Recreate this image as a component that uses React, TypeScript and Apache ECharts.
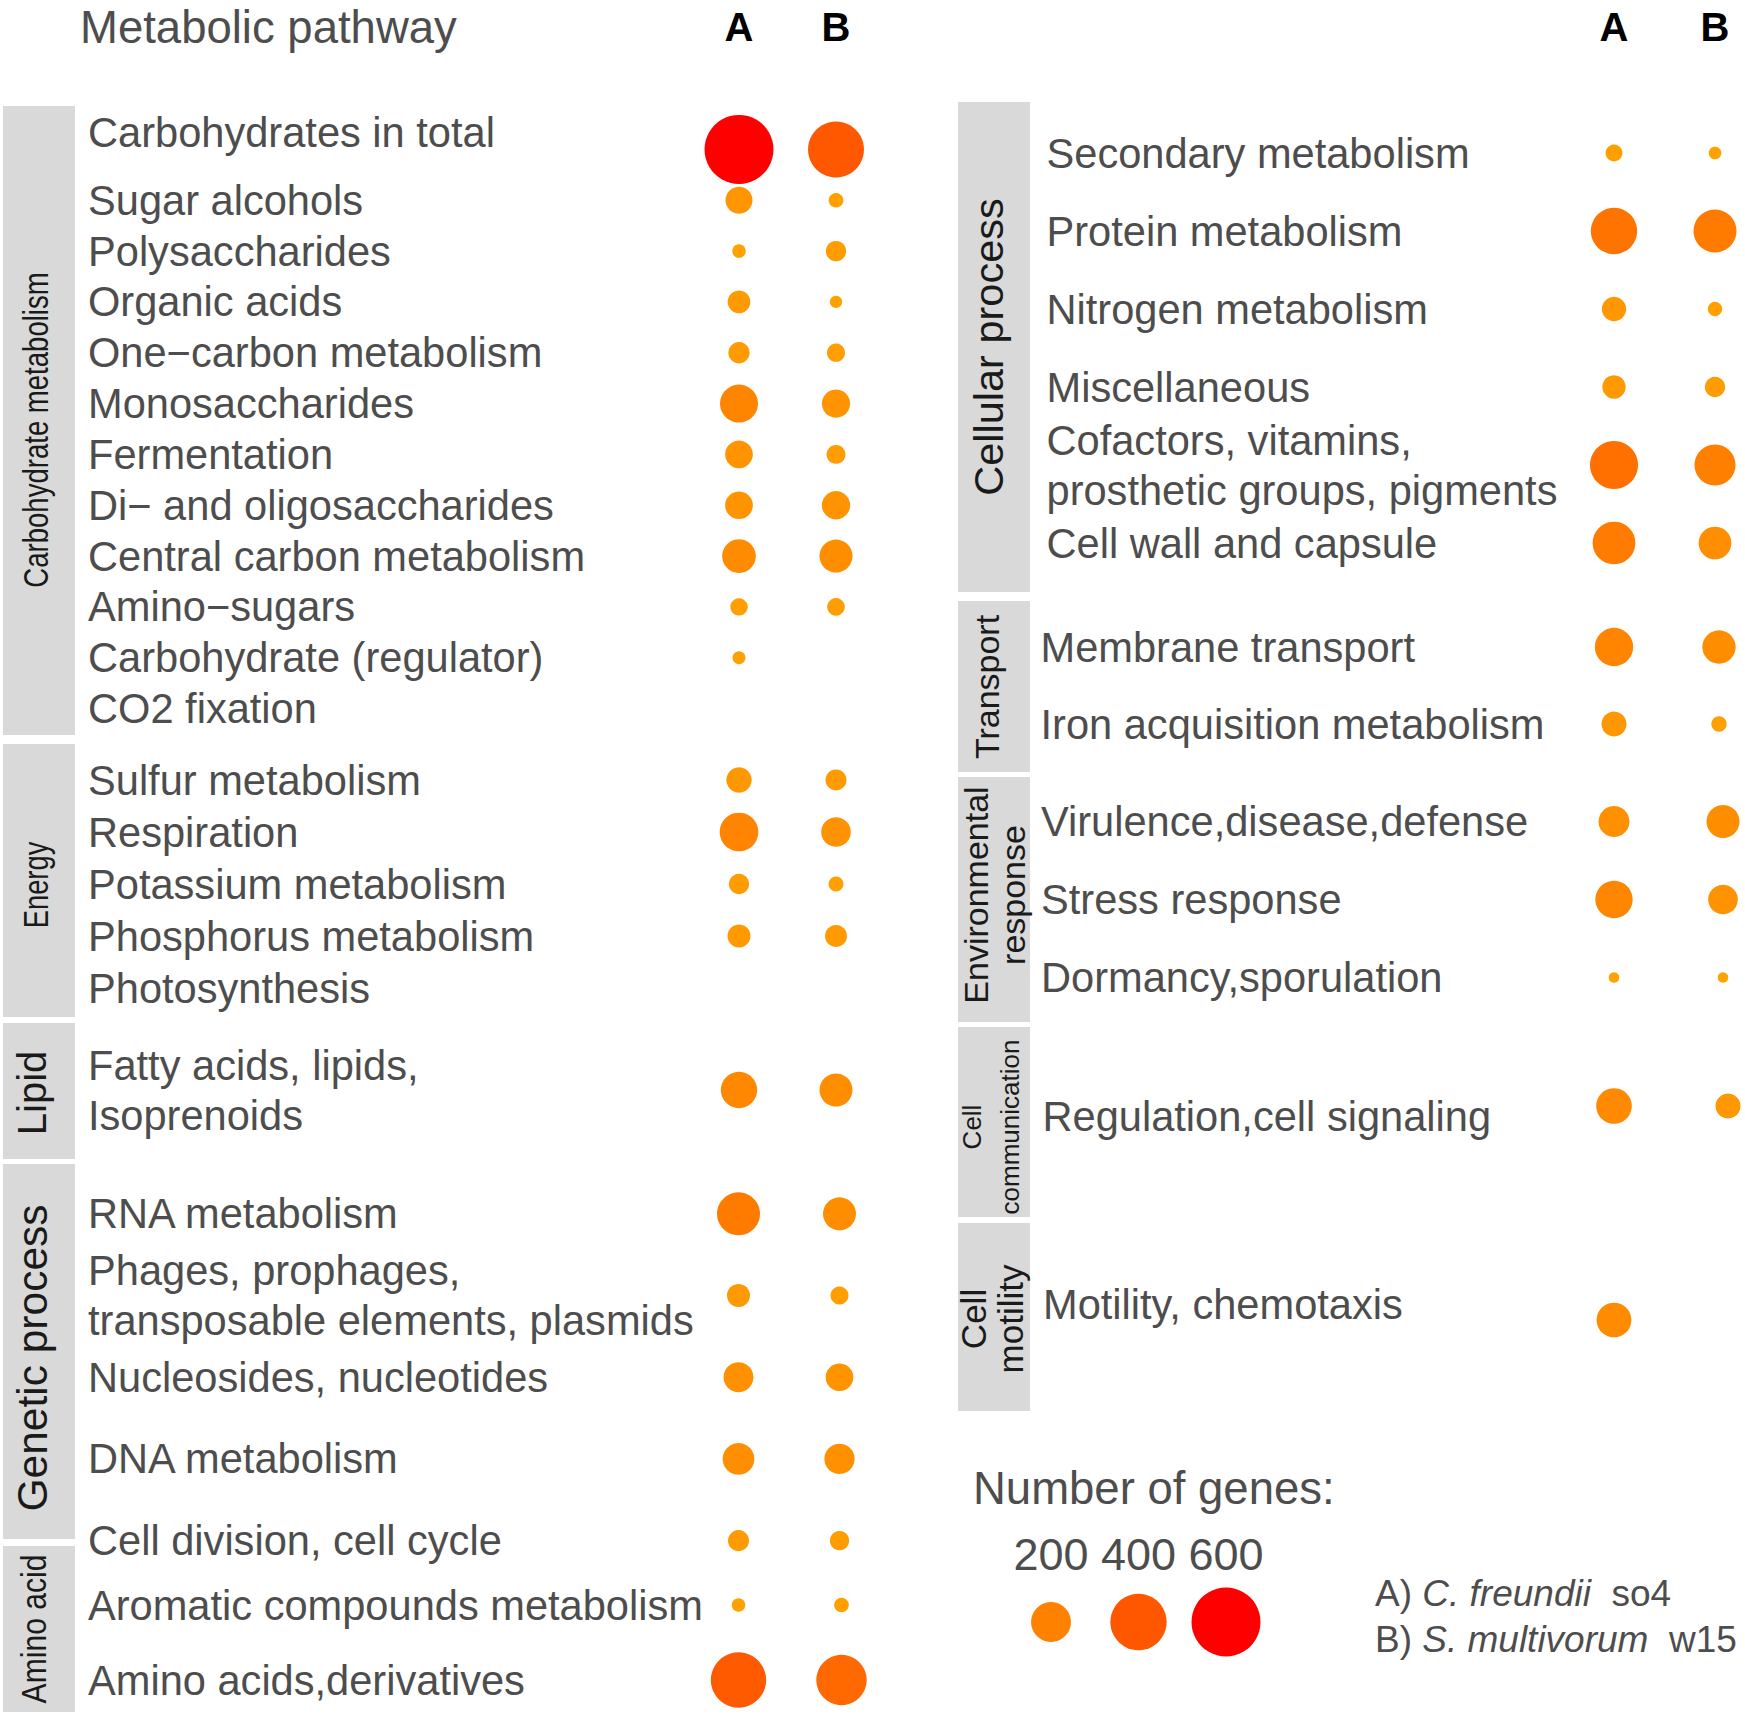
import React, { useEffect, useRef } from 'react';
import * as echarts from 'echarts';

// ---------------- data ----------------
const strains = ['A', 'B'];

const carbPathways = [
  'Carbohydrates in total', 'Sugar alcohols', 'Polysaccharides', 'Organic acids',
  'One\u2212carbon metabolism', 'Monosaccharides', 'Fermentation',
  'Di\u2212 and oligosaccharides', 'Central carbon metabolism', 'Amino\u2212sugars',
  'Carbohydrate (regulator)', 'CO2 fixation',
];
const carbA = [600, 92, 23, 65, 57, 182, 97, 97, 143, 38, 21, null];
const carbB = [395, 27, 52, 19, 42, 101, 45, 101, 137, 39, null, null];

const energyPathways = ['Sulfur metabolism', 'Respiration', 'Potassium metabolism', 'Phosphorus metabolism', 'Photosynthesis'];
const energyA = [81, 188, 52, 67, null];
const energyB = [56, 111, 28, 61, null];

const lipidPathways = ['Fatty acids, lipids,\nIsoprenoids'];
const lipidA = [166];
const lipidB = [137];

const geneticPathways = [
  'RNA metabolism', 'Phages, prophages,\ntransposable elements, plasmids',
  'Nucleosides, nucleotides', 'DNA metabolism', 'Cell division, cell cycle',
];
const geneticA = [233, 67, 113, 127, 56];
const geneticB = [137, 41, 97, 116, 47];

const aminoPathways = ['Aromatic compounds metabolism', 'Amino acids,derivatives'];
const aminoA = [23, 386];
const aminoB = [27, 320];

const cellularPathways = [
  'Secondary metabolism', 'Protein metabolism', 'Nitrogen metabolism', 'Miscellaneous',
  'Cofactors, vitamins,\nprosthetic groups, pigments', 'Cell wall and capsule',
];
const cellularA = [36, 271, 75, 69, 291, 230];
const cellularB = [20, 233, 26, 52, 212, 135];

const transportPathways = ['Membrane transport', 'Iron acquisition metabolism'];
const transportA = [185, 79];
const transportB = [140, 30];

const envPathways = ['Virulence,disease,defense', 'Stress response', 'Dormancy,sporulation'];
const envA = [121, 176, 14];
const envB = [137, 111, 14];

const commPathways = ['Regulation,cell signaling'];
const commA = [160];
const commB = [79];

const motilityPathways = ['Motility, chemotaxis'];
const motilityA = [152];
const motilityB = [null];

const legendLabels = ['200', '400', '600'];
const legendValues = [200, 400, 600];

// ---------------- styling / layout ----------------
const FONT = "'Liberation Sans', Arial, Helvetica, sans-serif";
const LABEL_COLOR = '#4D4D4D';
const STRIP_TEXT = '#1A1A1A';
const STRIP_FILL = '#D9D9D9';
const LABEL_SIZE = 41.6;
const SIZE_K = 2.816;
const COLOR_STOPS = ['#FFA500', '#FF8B00', '#FF6E00', '#FF4B00', '#FF0000'];

type Group = {
  strip: string;
  pathways: string[];
  a: (number | null)[];
  b: (number | null)[];
  top: number; h: number; left: number; w: number; labelX: number;
  rect: [number, number, number, number];
  tx: number; ty: number; tsize: number; tlh?: number; tscale?: number;
  header?: number; valign?: string; vlh?: number; firstUp?: number;
};

const groups: Group[] = [
  { strip: 'Carbohydrate metabolism', pathways: carbPathways, a: carbA, b: carbB,
    top: 124, h: 610, left: 690.5, w: 194, labelX: 88, rect: [3, 106, 72, 629],
    tx: 36, ty: 430, tsize: 36, tscale: 0.765, header: 97, firstUp: 34 },
  { strip: 'Energy', pathways: energyPathways, a: energyA, b: energyB,
    top: 754, h: 260, left: 690.5, w: 194, labelX: 88, rect: [3, 744, 72, 273],
    tx: 36, ty: 885, tsize: 36, tscale: 0.76 },
  { strip: 'Lipid', pathways: lipidPathways, a: lipidA, b: lipidB,
    top: 1040, h: 100, left: 690.5, w: 194, labelX: 88, rect: [3, 1023, 72, 136],
    tx: 32, ty: 1093, tsize: 40 },
  { strip: 'Genetic process', pathways: geneticPathways, a: geneticA, b: geneticB,
    top: 1173, h: 408.5, left: 688, w: 202, labelX: 88, rect: [3, 1164, 72, 375],
    tx: 32, ty: 1358, tsize: 42.5 },
  { strip: 'Amino acid', pathways: aminoPathways, a: aminoA, b: aminoB,
    top: 1567.5, h: 150, left: 687, w: 206, labelX: 88, rect: [3, 1546, 72, 166],
    tx: 34, ty: 1629, tsize: 35, tscale: 0.86 },
  { strip: 'Cellular process', pathways: cellularPathways, a: cellularA, b: cellularB,
    top: 114, h: 468, left: 1563.5, w: 202, labelX: 1046.5, rect: [958, 102, 72, 490],
    tx: 988, ty: 347, tsize: 41.5, header: 87 },
  { strip: 'Transport', pathways: transportPathways, a: transportA, b: transportB,
    top: 608.5, h: 154, left: 1561.5, w: 210, labelX: 1040.5, rect: [958, 601, 72, 171],
    tx: 987, ty: 687, tsize: 34 },
  { strip: 'Environmental\nresponse', pathways: envPathways, a: envA, b: envB,
    top: 782.5, h: 234, left: 1559.5, w: 218, labelX: 1041, rect: [958, 777, 72, 245],
    tx: 994, ty: 895, tsize: 34, tlh: 37 },
  { strip: 'Cell\ncommunication', pathways: commPathways, a: commA, b: commB,
    top: 1056, h: 100, left: 1557, w: 228, labelX: 1042.5, rect: [958, 1027, 72, 190],
    tx: 991, ty: 1127, tsize: 26, tlh: 38, valign: 'top', vlh: 20 },
  { strip: 'Cell\nmotility', pathways: motilityPathways, a: motilityA, b: motilityB,
    top: 1270, h: 100, left: 1557, w: 228, labelX: 1043, rect: [958, 1223, 72, 188],
    tx: 992, ty: 1319, tsize: 35, tlh: 37, valign: 'bottom', vlh: 32 },
];

const sizeFn = (val: any) => SIZE_K * Math.sqrt(val[2]);

function buildOption() {
  const grid: any[] = [];
  const xAxis: any[] = [];
  const yAxis: any[] = [];
  const series: any[] = [];
  const graphic: any[] = [];

  groups.forEach((g, i) => {
    grid.push({ left: g.left, top: g.top, width: g.w, height: g.h, containLabel: false, outerBoundsMode: 'none' });
    xAxis.push({
      gridIndex: i, type: 'category', data: strains, position: 'top',
      show: g.header !== undefined,
      axisLine: { show: false }, axisTick: { show: false }, splitLine: { show: false },
      axisLabel: {
        show: g.header !== undefined, interval: 0, margin: g.header || 0, fontSize: 40, fontWeight: 'bold',
        fontFamily: FONT, color: '#000000', verticalAlign: 'middle',
      },
    });
    const labelCfg: any = {
      interval: 0, align: 'left', verticalAlign: g.valign || 'middle', margin: g.left - g.labelX,
      fontSize: LABEL_SIZE, fontFamily: FONT, color: LABEL_COLOR, lineHeight: g.vlh || 50,
    };
    if (g.firstUp) {
      labelCfg.formatter = (v: string, idx: number) => (idx === 0 ? '{u|' + v + '}' : v);
      labelCfg.rich = {
        u: { fontSize: LABEL_SIZE, fontFamily: FONT, color: LABEL_COLOR, lineHeight: 50, padding: [0, 0, g.firstUp, 0] },
      };
    }
    yAxis.push({
      gridIndex: i, type: 'category', inverse: true, data: g.pathways,
      axisLine: { show: false }, axisTick: { show: false }, splitLine: { show: false },
      axisLabel: labelCfg,
    });
    const pts: any[] = [];
    g.pathways.forEach((_, r) => {
      if (g.a[r] != null) pts.push([0, r, g.a[r]]);
      if (g.b[r] != null) pts.push([1, r, g.b[r]]);
    });
    series.push({
      type: 'scatter', xAxisIndex: i, yAxisIndex: i, symbol: 'circle',
      symbolSize: sizeFn, data: pts, silent: true, itemStyle: { opacity: 1 },
    });
    graphic.push({
      type: 'rect', shape: { x: g.rect[0], y: g.rect[1], width: g.rect[2], height: g.rect[3] },
      style: { fill: STRIP_FILL }, silent: true,
    });
    graphic.push({
      type: 'text', x: g.tx, y: g.ty, rotation: Math.PI / 2, silent: true,
      scaleX: g.tscale || 1, scaleY: 1,
      style: {
        text: g.strip, fontSize: g.tsize, fontFamily: FONT, fill: STRIP_TEXT,
        align: 'center', verticalAlign: 'middle', textAlign: 'center', textVerticalAlign: 'middle',
        lineHeight: g.tlh || g.tsize,
      },
    });
  });

  // size legend
  const li = groups.length;
  grid.push({ left: 1007.25, top: 1582, width: 262.5, height: 80, containLabel: false, outerBoundsMode: 'none' });
  xAxis.push({
    gridIndex: li, type: 'category', data: legendLabels, position: 'top',
    axisLine: { show: false }, axisTick: { show: false }, splitLine: { show: false },
    axisLabel: { interval: 0, hideOverlap: false, margin: 28, fontSize: 45, fontFamily: FONT, color: LABEL_COLOR, verticalAlign: 'middle' },
  });
  yAxis.push({ gridIndex: li, type: 'category', data: [''], show: false });
  series.push({
    type: 'scatter', xAxisIndex: li, yAxisIndex: li, symbol: 'circle', symbolSize: sizeFn,
    data: legendValues.map((v, k) => [k, 0, v]), silent: true, itemStyle: { opacity: 1 },
  });

  graphic.push({
    type: 'text', x: 80, y: 27, silent: true,
    style: { text: 'Metabolic pathway', fontSize: 45.5, fontFamily: FONT, fill: LABEL_COLOR,
      align: 'left', verticalAlign: 'middle', textAlign: 'left', textVerticalAlign: 'middle' },
  });
  graphic.push({
    type: 'text', x: 973, y: 1488, silent: true,
    style: { text: 'Number of genes:', fontSize: 45.5, fontFamily: FONT, fill: LABEL_COLOR,
      align: 'left', verticalAlign: 'middle', textAlign: 'left', textVerticalAlign: 'middle' },
  });
  const rich = {
    n: { fontSize: 37, fontFamily: FONT, fill: LABEL_COLOR, color: LABEL_COLOR },
    i: { fontSize: 37, fontFamily: FONT, fill: LABEL_COLOR, color: LABEL_COLOR, fontStyle: 'italic' },
  };
  graphic.push({
    type: 'text', x: 1375, y: 1593, silent: true,
    style: { text: '{n|A) }{i|C. freundii}{n|  so4}', rich, fontSize: 37, fontFamily: FONT, fill: LABEL_COLOR,
      align: 'left', verticalAlign: 'middle', textAlign: 'left', textVerticalAlign: 'middle' },
  });
  graphic.push({
    type: 'text', x: 1375, y: 1639, silent: true,
    style: { text: '{n|B) }{i|S. multivorum}{n|  w15}', rich, fontSize: 37, fontFamily: FONT, fill: LABEL_COLOR,
      align: 'left', verticalAlign: 'middle', textAlign: 'left', textVerticalAlign: 'middle' },
  });

  return {
    animation: false,
    backgroundColor: '#FFFFFF',
    grid, xAxis, yAxis, series,
    visualMap: {
      type: 'continuous', show: false, min: 0, max: 600, dimension: 2,
      inRange: { color: COLOR_STOPS },
    },
    graphic: { elements: graphic },
  };
}

export default function App() {
  const ref = useRef<HTMLDivElement>(null);
  useEffect(() => {
    if (!ref.current) return;
    const chart = echarts.init(ref.current, undefined, { renderer: 'svg' });
    chart.setOption(buildOption() as any);
    return () => chart.dispose();
  }, []);
  return (
    <div
      ref={ref}
      style={{ position: 'absolute', left: 0, top: 0, width: 1745, height: 1718, background: '#FFFFFF' }}
    />
  );
}
